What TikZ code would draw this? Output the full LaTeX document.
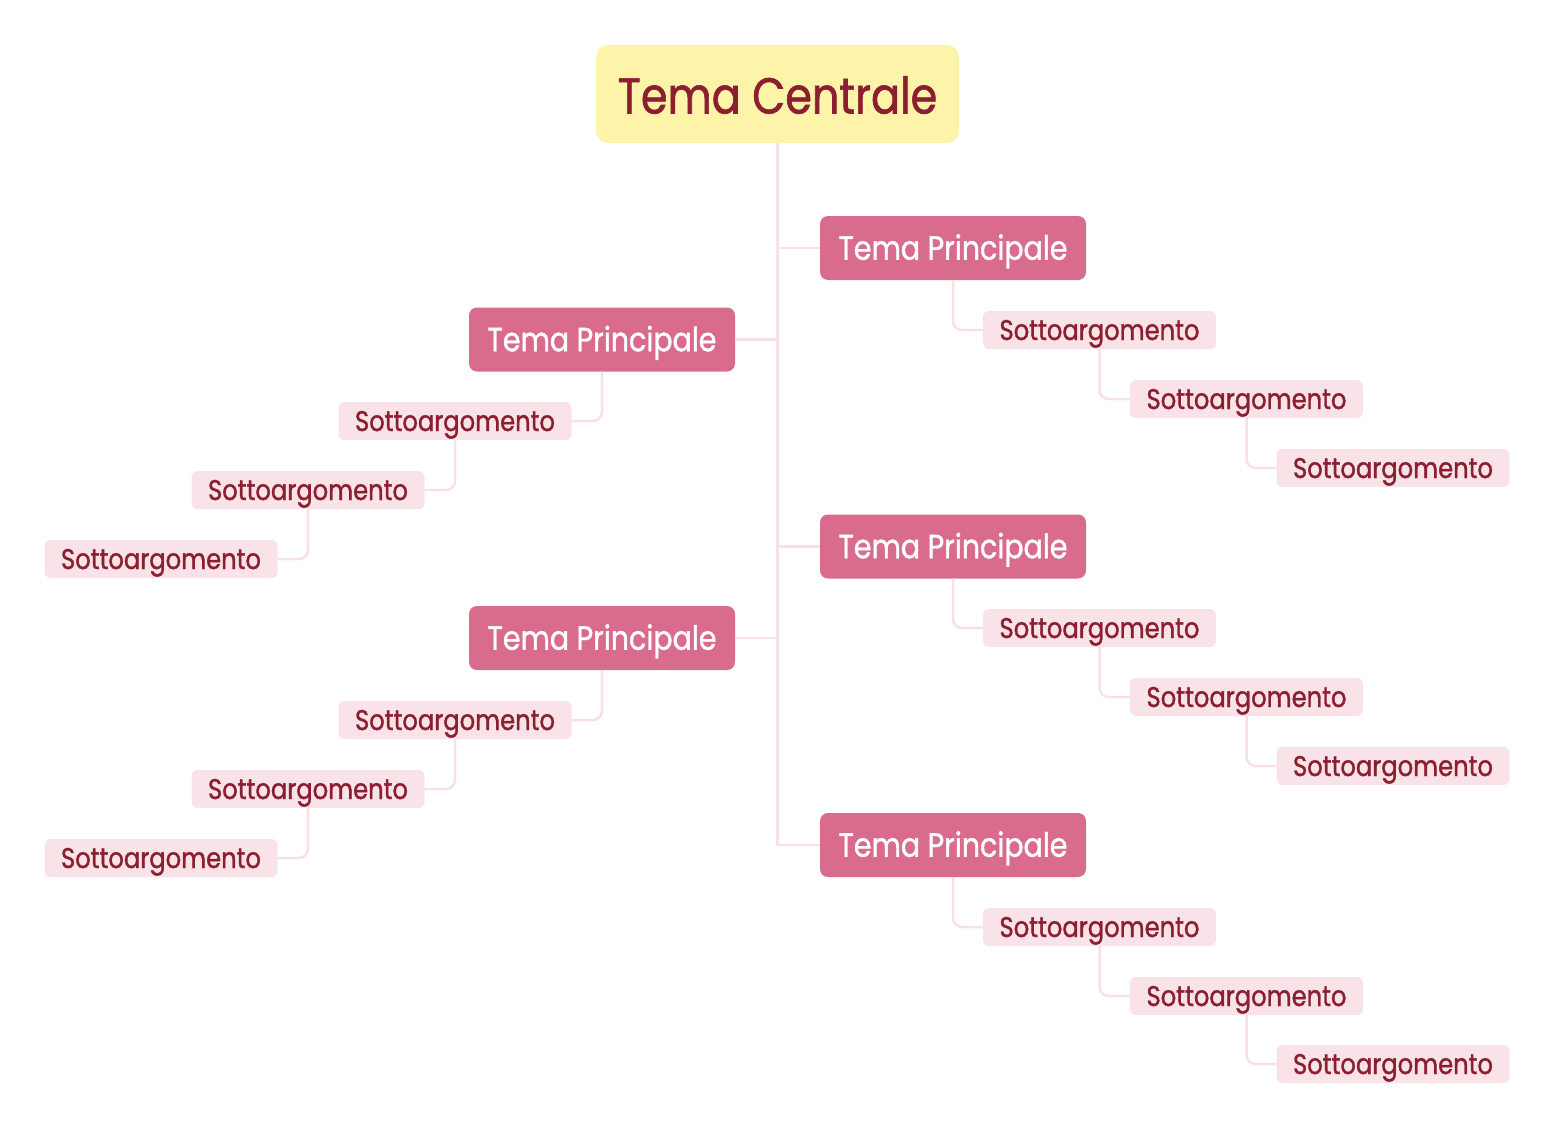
\documentclass[tikz,border=0pt]{standalone}
\usepackage{fontspec}
\setmainfont{Poppins}[FakeStretch=0.85, FakeBold=1.2]
\definecolor{centfill}{HTML}{FDF4AA}
\definecolor{topicfill}{HTML}{D96B8C}
\definecolor{subfill}{HTML}{F9E3E9}
\definecolor{darkwine}{HTML}{8B1E2F}
\definecolor{linkpink}{HTML}{F8E0E6}

\begin{document}
\begin{tikzpicture}[x=1pt,y=-1pt,
    box/.style={inner sep=0pt, text depth=0pt},
    central/.style={box, rounded corners=12pt, fill=centfill, text=darkwine, text height=39pt,
        minimum width=363pt, minimum height=98pt, font=\fontsize{50.5}{60}\selectfont},
    topic/.style={box, rounded corners=8pt, fill=topicfill, text=white, text height=23.5pt,
        minimum width=266pt, minimum height=64pt, font=\fontsize{33.5}{40}\selectfont},
    subtopic/.style={box, rounded corners=6pt, fill=subfill, text=darkwine, text height=20pt,
        minimum width=233pt, minimum height=38pt, font=\fontsize{28.5}{34}\selectfont},
    link/.style={line width=2.5pt, draw=linkpink},
    elbow/.style={link, rounded corners=9pt}]
    \useasboundingbox (0,0) rectangle (1556,1145);
    \path
        (777.5,94) node(c)[central]{Tema Centrale}
        (953,248) node(r1)[topic]{Tema Principale}
        (953,546.5) node(r2)[topic]{Tema Principale}
        (953,845) node(r3)[topic]{Tema Principale}
        (602,339.5) node(l1)[topic]{Tema Principale}
        (602,638) node(l2)[topic]{Tema Principale};
    \path
        (1099.5,330) node(r11)[subtopic]{Sottoargomento}
        (1246.5,399) node(r12)[subtopic]{Sottoargomento}
        (1393,468) node(r13)[subtopic]{Sottoargomento}
        (1099.5,628) node(r21)[subtopic]{Sottoargomento}
        (1246.5,697) node(r22)[subtopic]{Sottoargomento}
        (1393,766) node(r23)[subtopic]{Sottoargomento}
        (1099.5,927) node(r31)[subtopic]{Sottoargomento}
        (1246.5,996) node(r32)[subtopic]{Sottoargomento}
        (1393,1064) node(r33)[subtopic]{Sottoargomento}
        (455,421) node(l11)[subtopic]{Sottoargomento}
        (308,490) node(l12)[subtopic]{Sottoargomento}
        (161,559) node(l13)[subtopic]{Sottoargomento}
        (455,720) node(l21)[subtopic]{Sottoargomento}
        (308,789) node(l22)[subtopic]{Sottoargomento}
        (161,858) node(l23)[subtopic]{Sottoargomento};
    % trunk
    \draw[link] (c.south) |- (r1.west);
    \draw[link] (c.south) |- (r2.west);
    \draw[link] (c.south) |- (r3.west);
    \draw[link] (c.south) |- (l1.east);
    \draw[link] (c.south) |- (l2.east);
    % right branches
    \foreach \t in {r1,r2,r3} {
        \draw[elbow] (\t.south) |- (\t1.west);
        \draw[elbow] (\t1.south) |- (\t2.west);
        \draw[elbow] (\t2.south) |- (\t3.west);
    }
    % left branches
    \foreach \t in {l1,l2} {
        \draw[elbow] (\t.south) |- (\t1.east);
        \draw[elbow] (\t1.south) |- (\t2.east);
        \draw[elbow] (\t2.south) |- (\t3.east);
    }
\end{tikzpicture}
\end{document}
